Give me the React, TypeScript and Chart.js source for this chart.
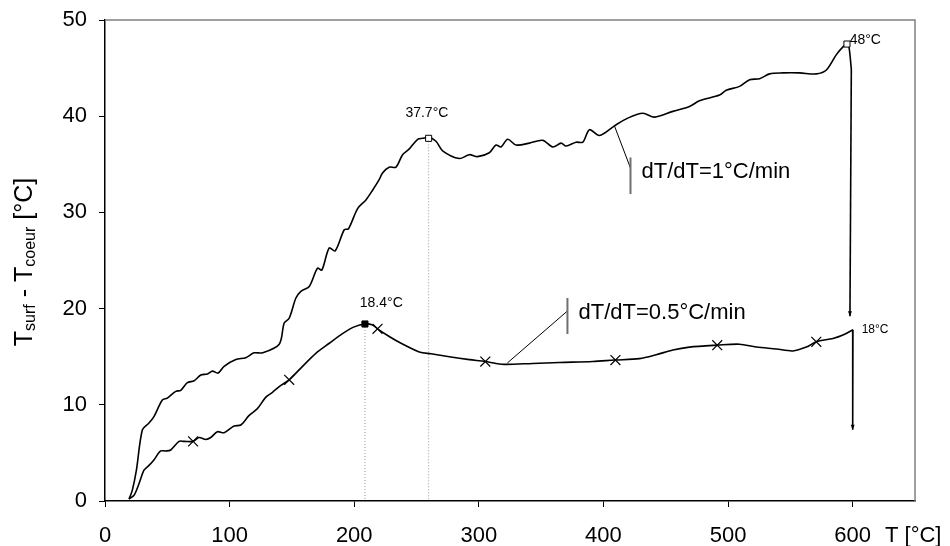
import React, { useEffect, useRef } from "react";
import { Chart, registerables } from "chart.js";
Chart.register(...registerables);

// ---- Data (T in °C, ΔT = Tsurf - Tcoeur in °C) ----
const upperT = [19.3, 21.9, 25.2, 30, 35.3, 39.4, 46, 50, 56.8, 60.8, 66.1, 71.5, 76.9, 82.2, 86.2, 90.8, 95.6, 105, 113, 119.7, 126.4, 139.8, 143.8, 147.8, 153.2, 157.2, 163.9, 170.5, 174, 179.9, 184.7, 192, 195.4, 202.7, 209.4, 214.7, 220, 222.7, 228, 233.5, 238.8, 244.2, 250.9, 254.9, 259.7, 265.6, 270.9, 284.3, 292.4, 299, 308.4, 313.8, 317.8, 323.1, 329.9, 340.6, 351.2, 359.3, 366, 370, 378, 383.4, 388.8, 396.8, 408.8, 419.5, 431.6, 441, 455.7, 469, 477, 493.2, 498.5, 509.2, 517.3, 525.3, 533.3, 544, 557.4, 570.8, 578.9, 586.9, 592.2, 595.4, 597, 598.9];
const upperDT = [0.2, 1.1, 3.2, 7.4, 8.1, 8.8, 10.5, 10.7, 11.4, 11.5, 12.3, 12.5, 13.1, 13.2, 13.5, 13.3, 14.0, 14.7, 14.9, 15.4, 15.4, 16.3, 18.5, 19.0, 21.1, 21.8, 22.3, 24.2, 24.0, 26.3, 26.0, 28.2, 28.3, 30.4, 31.3, 32.3, 33.4, 34.1, 34.7, 34.7, 36.0, 36.6, 37.6, 37.7, 37.8, 37.4, 36.4, 35.6, 36.0, 35.8, 36.2, 37.0, 36.8, 37.6, 37.0, 37.2, 37.5, 36.8, 37.2, 36.9, 37.3, 37.3, 38.6, 38.0, 39.0, 39.8, 40.3, 39.9, 40.5, 41.0, 41.6, 42.2, 42.7, 43.1, 43.8, 43.9, 44.4, 44.5, 44.5, 44.4, 44.8, 46.4, 47.2, 47.5, 47.2, 44.9];
// final cooling drop of the 1°C/min run
const upperDropT = [598.9, 597.8];
const upperDropDT = [44.9, 19.2];

const lowerT = [19.3, 23.3, 27.3, 31.3, 35.3, 39.4, 44.7, 48.7, 52.7, 59.4, 63.5, 70.7, 75.5, 80.9, 84.9, 90.2, 95.6, 103.6, 109, 115.7, 122.3, 129.1, 134.4, 139.8, 147.8, 158.5, 169.2, 180, 190.6, 200, 208.6, 214.7, 218.7, 228.1, 236.1, 252.2, 261.6, 276.3, 292.4, 305.2, 313.8, 321.8, 343.2, 364.7, 391.4, 408.8, 428.9, 442.3, 455.7, 469, 491.3, 509.2, 522.6, 538.7, 552, 562.8, 570.8, 584.2, 592.2, 600.2];
const lowerDT = [0.2, 0.6, 1.8, 3.2, 3.7, 4.3, 5.2, 5.2, 5.3, 6.2, 6.2, 6.2, 6.6, 6.4, 6.6, 7.2, 7.1, 7.8, 7.9, 8.9, 9.6, 10.8, 11.3, 11.9, 12.6, 14.0, 15.35, 16.4, 17.4, 18.1, 18.4, 18.3, 17.9, 17.1, 16.5, 15.5, 15.3, 15.0, 14.7, 14.5, 14.3, 14.2, 14.3, 14.4, 14.5, 14.65, 14.8, 15.2, 15.7, 16.0, 16.2, 16.3, 16.0, 15.8, 15.6, 16.0, 16.55, 16.9, 17.25, 17.8];
// final cooling drop of the 0.5°C/min run
const lowerDropT = [600.2, 600.0];
const lowerDropDT = [17.8, 7.4];

const crossT = [70.7, 147.8, 218.7, 305.2, 409.6, 491.3, 570.8];
const crossDT = [6.2, 12.6, 17.9, 14.5, 14.65, 16.2, 16.55];

const peakOpenT = [259.7, 595.4];
const peakOpenDT = [37.7, 47.5];
const peakFilledT = [208.6];
const peakFilledDT = [18.4];
const dropLineT = [259.7, 208.6];
const dropLineDT = [37.7, 18.4];

const xTicks = [0, 100, 200, 300, 400, 500, 600];
const yTicks = [0, 10, 20, 30, 40, 50];

const peakLabels = ["37.7°C", "18.4°C", "48°C", "18°C"];
const rateLabels = ["dT/dT=1°C/min", "dT/dT=0.5°C/min"];

const FONT = 'Arial, "Liberation Sans", sans-serif';

const pts = (xs: number[], ys: number[]) => xs.map((x, i) => ({ x, y: ys[i] }));

const decorPlugin = {
  id: "decor",
  afterDatasetsDraw(chart: any) {
    const { ctx, chartArea, scales } = chart;
    const X = (v: number) => scales.x.getPixelForValue(v);
    const Y = (v: number) => scales.y.getPixelForValue(v);
    ctx.save();
    // top & right frame
    ctx.strokeStyle = "#808080";
    ctx.lineWidth = 1.5;
    ctx.beginPath();
    ctx.moveTo(chartArea.left, chartArea.top);
    ctx.lineTo(chartArea.right, chartArea.top);
    ctx.lineTo(chartArea.right, chartArea.bottom);
    ctx.stroke();

    // leader lines
    ctx.strokeStyle = "#000";
    ctx.lineWidth = 1;
    ctx.beginPath();
    ctx.moveTo(X(408.8), Y(39.0));
    ctx.lineTo(X(421.7), Y(34.6));
    ctx.moveTo(X(322.9), Y(14.35));
    ctx.lineTo(X(371.1), Y(19.75));
    ctx.stroke();
    ctx.strokeStyle = "#707070";
    ctx.lineWidth = 2;
    ctx.beginPath();
    ctx.moveTo(X(421.7), Y(35.7));
    ctx.lineTo(X(421.7), Y(31.9));
    ctx.moveTo(X(371.1), Y(21.1));
    ctx.lineTo(X(371.1), Y(17.36));
    ctx.stroke();

    // small tips at the ends of the vertical drops
    ctx.fillStyle = "#000";
    const tip = (x: number, y: number) => {
      const px = X(x), py = Y(y);
      ctx.beginPath();
      ctx.moveTo(px - 2, py - 5);
      ctx.lineTo(px + 2, py - 5);
      ctx.lineTo(px, py);
      ctx.closePath();
      ctx.fill();
    };
    tip(upperDropT[1], upperDropDT[1]);
    tip(lowerDropT[1], lowerDropDT[1]);

    // texts
    ctx.fillStyle = "#000";
    ctx.textBaseline = "middle";
    ctx.font = `22px ${FONT}`;
    ctx.textAlign = "left";
    ctx.fillText(rateLabels[0], X(430.5), Y(34.2));
    ctx.fillText(rateLabels[1], X(380), Y(19.5));

    ctx.font = `14px ${FONT}`;
    ctx.textAlign = "center";
    ctx.fillText(peakLabels[0], X(258.3), Y(40.3));
    ctx.fillText(peakLabels[1], X(221.7), Y(20.6));
    ctx.textAlign = "left";
    ctx.fillText(peakLabels[2], X(597.6), Y(47.9));
    ctx.font = `12px ${FONT}`;
    ctx.fillText(peakLabels[3], X(607.2), Y(17.8));

    // x title
    ctx.font = `22px ${FONT}`;
    ctx.textAlign = "left";
    ctx.fillText("T [°C]", 885, 536);

    // y title with subscripts
    const segs = [
      { t: "T", s: false },
      { t: "surf", s: true },
      { t: " - T", s: false },
      { t: "coeur", s: true },
      { t: " [°C]", s: false },
    ];
    const mainF = `25px ${FONT}`;
    const subF = `16px ${FONT}`;
    let w = 0;
    for (const sg of segs) {
      ctx.font = sg.s ? subF : mainF;
      w += ctx.measureText(sg.t).width;
    }
    ctx.translate(32, 262);
    ctx.rotate(-Math.PI / 2);
    ctx.textAlign = "left";
    ctx.textBaseline = "alphabetic";
    let cur = -w / 2;
    for (const sg of segs) {
      ctx.font = sg.s ? subF : mainF;
      ctx.fillText(sg.t, cur, sg.s ? 3 : 0);
      cur += ctx.measureText(sg.t).width;
    }
    ctx.restore();
  },
};

export default function App() {
  const ref = useRef<HTMLCanvasElement>(null);
  useEffect(() => {
    document.body.style.margin = "0";
    const canvas = ref.current!;
    const dropSets = dropLineT.map((x, i) => ({
      data: [{ x, y: dropLineDT[i] }, { x, y: 0 }],
      borderColor: "#9a9a9a",
      borderWidth: 1,
      borderDash: [1, 2],
      pointRadius: 0,
      tension: 0,
      order: 5,
    }));
    const chart = new Chart(canvas, {
      type: "line",
      data: {
        datasets: [
          {
            data: pts(peakOpenT, peakOpenDT),
            showLine: false,
            pointStyle: "rect",
            pointRadius: 4.3,
            pointBackgroundColor: "#fff",
            pointBorderColor: "#000",
            pointBorderWidth: 1,
            order: 0,
          },
          {
            data: pts(peakFilledT, peakFilledDT),
            showLine: false,
            pointStyle: "rect",
            pointRadius: 4.3,
            pointBackgroundColor: "#000",
            pointBorderColor: "#000",
            pointBorderWidth: 1,
            order: 0,
          },
          {
            data: pts(crossT, crossDT),
            showLine: false,
            pointStyle: "crossRot",
            pointRadius: 7,
            pointBorderColor: "#000",
            pointBorderWidth: 1.2,
            order: 1,
          },
          {
            data: pts(upperT, upperDT),
            borderColor: "#000",
            borderWidth: 1.6,
            pointRadius: 0,
            tension: 0.3,
            order: 2,
          },
          {
            data: pts(upperDropT, upperDropDT),
            borderColor: "#000",
            borderWidth: 1.6,
            pointRadius: 0,
            tension: 0,
            order: 2,
          },
          {
            data: pts(lowerT, lowerDT),
            borderColor: "#000",
            borderWidth: 1.6,
            pointRadius: 0,
            tension: 0.3,
            order: 2,
          },
          {
            data: pts(lowerDropT, lowerDropDT),
            borderColor: "#000",
            borderWidth: 1.6,
            pointRadius: 0,
            tension: 0,
            order: 2,
          },
          ...dropSets,
        ] as any,
      },
      options: {
        animation: false,
        responsive: false,
        devicePixelRatio: 1,
        events: [],
        layout: { padding: { top: 20, right: 35, left: 0, bottom: 0 } },
        plugins: { legend: { display: false }, tooltip: { enabled: false } },
        scales: {
          x: {
            type: "linear",
            min: 0,
            max: 650,
            afterBuildTicks: (s: any) => {
              s.ticks = xTicks.map((v) => ({ value: v }));
            },
            afterFit: (s: any) => {
              s.height = 45;
              s.paddingLeft = 0;
              s.paddingRight = 0;
            },
            border: { color: "#000", width: 1.5 },
            grid: { drawOnChartArea: false, drawTicks: true, tickLength: 6, color: "#000", lineWidth: 1 },
            ticks: { color: "#000", font: { family: FONT, size: 22 }, padding: 16, maxRotation: 0 },
          },
          y: {
            type: "linear",
            min: 0,
            max: 50,
            afterBuildTicks: (s: any) => {
              s.ticks = yTicks.map((v) => ({ value: v }));
            },
            afterFit: (s: any) => {
              s.width = 105;
              s.paddingTop = 0;
              s.paddingBottom = 0;
            },
            border: { color: "#000", width: 1.5 },
            grid: { drawOnChartArea: false, drawTicks: true, tickLength: 6, color: "#000", lineWidth: 1 },
            ticks: { color: "#000", font: { family: FONT, size: 22 }, padding: 12 },
          },
        },
      },
      plugins: [decorPlugin],
    });
    return () => chart.destroy();
  }, []);
  return (
    <div style={{ width: 950, height: 546, background: "#fff" }}>
      <canvas ref={ref} width={950} height={546} style={{ display: "block" }} />
    </div>
  );
}
